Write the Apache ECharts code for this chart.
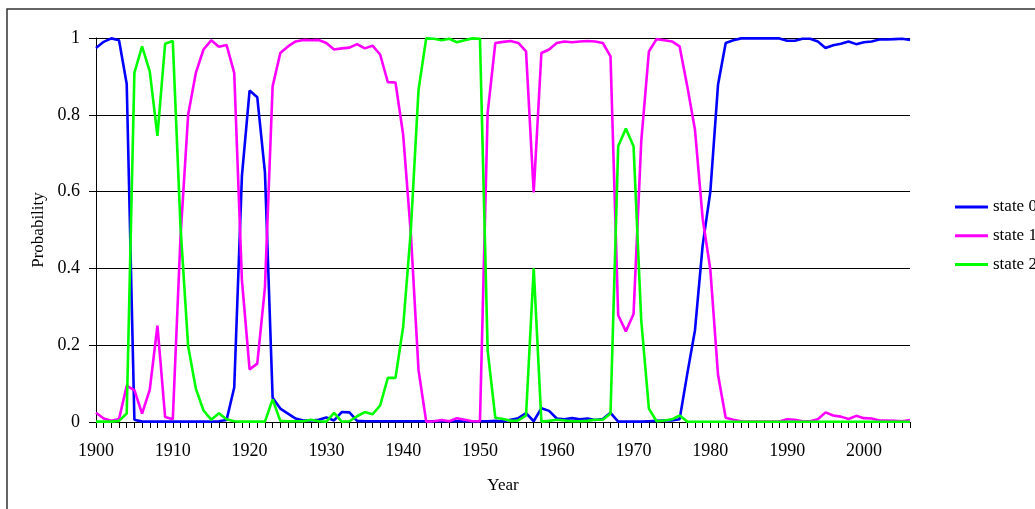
<!DOCTYPE html>
<html>
<head>
<meta charset="utf-8">
<script src="https://cdn.jsdelivr.net/npm/echarts@6/dist/echarts.min.js"></script>
<style>
html,body{margin:0;padding:0;background:#fff;}
#c{width:1035px;height:509px;}
</style>
</head>
<body>
<div id="c"></div>
<script>
var years = [];
for (var y = 1900; y <= 2006; y++) years.push(String(y));

var seriesNames = ['state 0', 'state 1', 'state 2'];

var state0 = [
0.974,0.99,0.999,0.994,0.88,0.006,0.001,0.001,0.001,0.001,
0.001,0.001,0.001,0.001,0.001,0.001,0.002,0.005,0.09,0.64,
0.863,0.846,0.65,0.063,0.035,0.022,0.009,0.004,0.004,0.006,
0.012,0.004,0.026,0.025,0.003,0.002,0.002,0.002,0.002,0.002,
0.002,0.002,0.002,0.002,0.002,0.002,0.002,0.002,0.002,0.002,
0.002,0.002,0.003,0.002,0.006,0.01,0.023,0.002,0.036,0.029,
0.009,0.007,0.01,0.007,0.009,0.005,0.008,0.024,0.001,0.001,
0.001,0.001,0.002,0.003,0.004,0.004,0.007,0.126,0.239,0.46,
0.6,0.878,0.987,0.994,0.999,0.999,0.999,0.999,0.999,0.999,
0.993,0.993,0.998,0.998,0.991,0.974,0.981,0.985,0.991,0.984,
0.989,0.991,0.996,0.996,0.997,0.998,0.995
];

var state1 = [
0.024,0.009,0.003,0.008,0.094,0.083,0.022,0.084,0.251,0.013,
0.007,0.48,0.8,0.909,0.97,0.994,0.977,0.982,0.909,0.37,
0.137,0.152,0.35,0.874,0.961,0.978,0.991,0.995,0.994,0.995,
0.987,0.97,0.973,0.975,0.984,0.973,0.98,0.957,0.885,0.884,
0.748,0.49,0.135,0.001,0.002,0.005,0.002,0.01,0.006,0.002,
0.002,0.805,0.987,0.99,0.992,0.987,0.965,0.598,0.961,0.97,
0.987,0.991,0.989,0.991,0.992,0.991,0.987,0.952,0.278,0.236,
0.281,0.73,0.965,0.997,0.994,0.991,0.978,0.874,0.761,0.53,
0.397,0.123,0.011,0.006,0.002,0.001,0.001,0.001,0.001,0.001,
0.007,0.006,0.002,0.002,0.007,0.025,0.017,0.014,0.008,0.016,
0.01,0.009,0.004,0.004,0.003,0.002,0.005
];

var state2 = [
0.001,0.001,0.001,0.003,0.022,0.909,0.978,0.913,0.745,0.985,
0.992,0.51,0.197,0.087,0.03,0.006,0.023,0.007,0.002,0.001,
0.001,0.001,0.001,0.059,0.003,0.002,0.002,0.002,0.006,0.002,
0.001,0.024,0.001,0.002,0.015,0.026,0.02,0.043,0.115,0.115,
0.248,0.5,0.865,0.999,0.998,0.994,0.998,0.989,0.994,0.999,
0.998,0.187,0.011,0.008,0.003,0.004,0.017,0.4,0.001,0.003,
0.006,0.004,0.002,0.002,0.003,0.006,0.006,0.022,0.718,0.764,
0.718,0.265,0.035,0.002,0.004,0.007,0.017,0.001,0.0005,0.0005,
0.0005,0.0005,0.0005,0.0005,0.0005,0.0005,0.0005,0.0005,0.0005,0.0005,
0.0005,0.0005,0.0005,0.0005,0.0005,0.0005,0.0005,0.0005,0.0005,0.0005,
0.0005,0.0005,0.0005,0.0005,0.0005,0.0005,0.0005
];

var colors = ['#0000FF', '#FF00FF', '#00FF00'];
var FONT = '"Liberation Serif", "Times New Roman", serif';

var chart = echarts.init(document.getElementById('c'), null, {renderer: 'canvas'});
var dataSets = [state0, state1, state2];
chart.setOption({
  animation: false,
  backgroundColor: '#fff',
  textStyle: {fontFamily: FONT},
  graphic: [{
    type: 'rect',
    shape: {x: 7, y: 9, width: 1040, height: 520},
    style: {fill: 'none', stroke: '#333', lineWidth: 1.5},
    silent: true
  }],
  grid: {left: 96, right: 125, top: 38, bottom: 87, containLabel: false},
  legend: {
    orient: 'vertical',
    left: 950,
    top: 192,
    itemWidth: 33,
    itemHeight: 3,
    itemGap: 8.7,
    icon: 'rect',
    textStyle: {fontFamily: FONT, fontSize: 17, color: '#000', lineHeight: 20},
    data: seriesNames
  },
  xAxis: {
    type: 'category',
    data: years,
    boundaryGap: false,
    name: 'Year',
    nameLocation: 'middle',
    nameGap: 55,
    nameTextStyle: {fontFamily: FONT, fontSize: 17, color: '#000'},
    axisLine: {show: true, lineStyle: {color: '#000', width: 1}},
    axisTick: {show: true, interval: 0, length: 6, lineStyle: {color: '#000', width: 1}},
    axisLabel: {interval: 9, margin: 20, fontFamily: FONT, fontSize: 18, color: '#000'},
    splitLine: {show: false}
  },
  yAxis: {
    type: 'value',
    min: 0,
    max: 1,
    interval: 0.2,
    name: 'Probability',
    nameLocation: 'middle',
    nameGap: 49,
    nameRotate: 90,
    nameTextStyle: {fontFamily: FONT, fontSize: 17, color: '#000'},
    axisLine: {show: true, lineStyle: {color: '#000', width: 1}},
    axisTick: {show: true, length: 7, lineStyle: {color: '#000', width: 1}},
    axisLabel: {margin: 16, fontFamily: FONT, fontSize: 18, color: '#000'},
    splitLine: {show: true, lineStyle: {color: '#000', width: 1}}
  },
  series: seriesNames.map(function (n, i) {
    return {
      name: n,
      type: 'line',
      data: dataSets[i],
      symbol: 'none',
      showSymbol: false,
      color: colors[i],
      lineStyle: {color: colors[i], width: 2.6},
      itemStyle: {color: colors[i]}
    };
  })
});
</script>
</body>
</html>
